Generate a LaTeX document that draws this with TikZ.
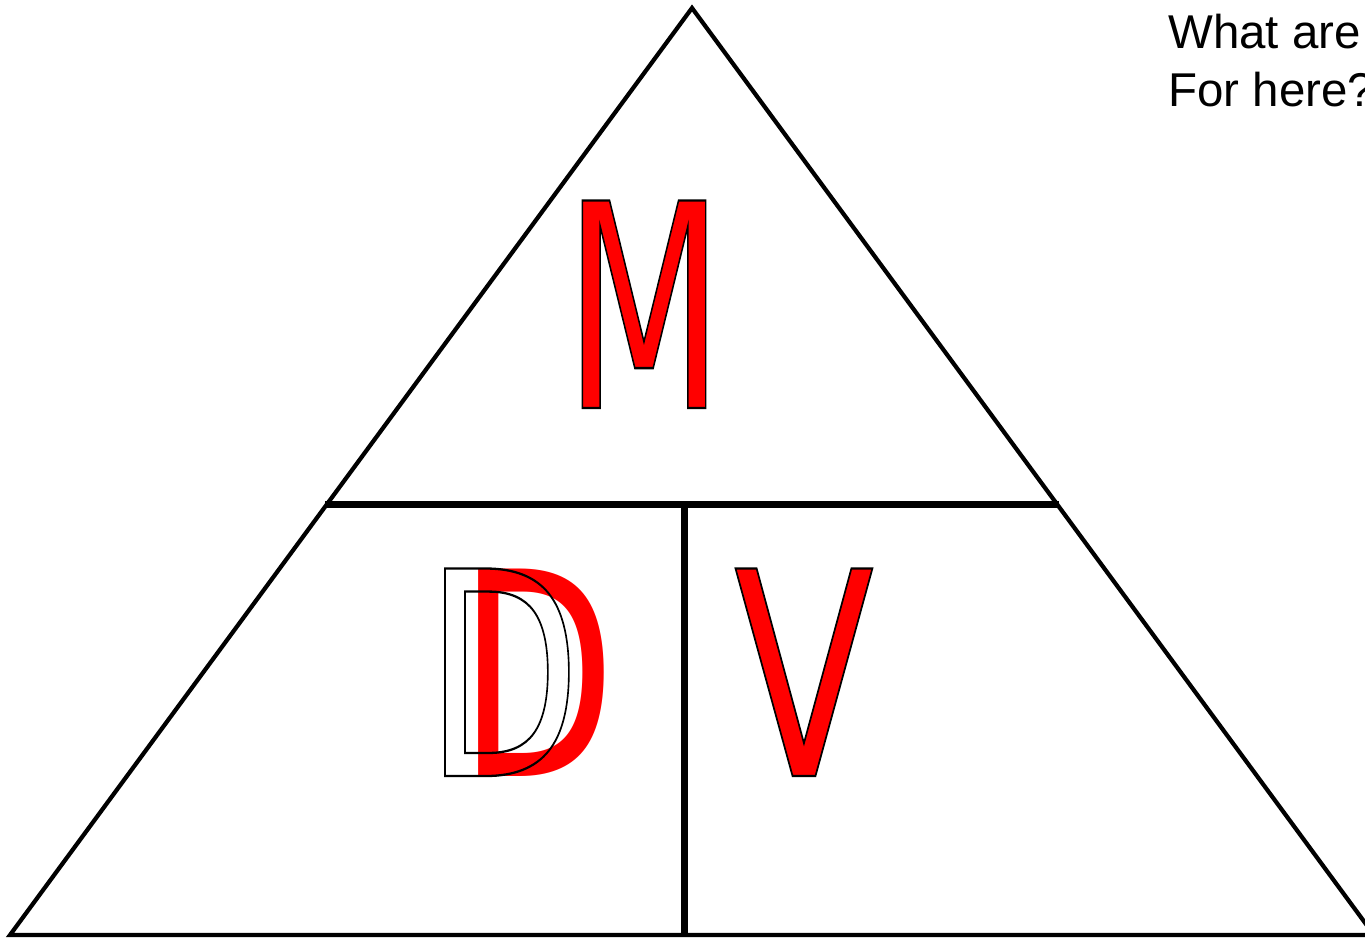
\documentclass[tikz,border=0pt]{standalone}
\usepackage{fontspec}
\usepackage{graphicx}
\usetikzlibrary{positioning}
\newfontfamily\letterfont{DejaVu Sans}
\newfontfamily\notefont{Liberation Sans}
\definecolor{letterred}{RGB}{255,0,0}
% fill + thin black stroke, and stroke only
\newcommand{\filledletter}[2]{\scalebox{#1}[1]{\special{pdf:literal direct 2 Tr 1.3 w 0 0 0 RG}#2\special{pdf:literal direct 0 Tr}}}
\newcommand{\hollowletter}[2]{\scalebox{#1}[1]{\special{pdf:literal direct 1 Tr 1.3 w 0 0 0 RG}#2\special{pdf:literal direct 0 Tr}}}
\newcommand{\plainletter}[2]{\scalebox{#1}[1]{#2}}

\begin{document}
\begin{tikzpicture}[x=0.02cm, y=-0.02cm,
    edge/.style={draw=black, line width=2.4pt},
    bar/.style={draw=black, line width=4pt},
    letter/.style={anchor=base, inner sep=0pt, text=letterred, font=\letterfont\fontsize{162}{162}\selectfont},
    note/.style={anchor=base west, inner sep=0pt, font=\notefont\fontsize{27}{33}\selectfont},
]
    \useasboundingbox (0,0) rectangle (1365,938);

    \coordinate (apex) at (692,8);
    \coordinate (bl) at (10,935);
    \coordinate (br) at (1374,935);
    \coordinate (ml) at (325,504);
    \coordinate (mr) at (1059,504);
    \coordinate (mtop) at (684.5,504);
    \coordinate (mbot) at (684.5,935);

    \draw[edge] (apex) -- (bl) -- (br) -- cycle;
    \draw[bar] (ml) -- (mr);
    \draw[bar] (mtop) -- (mbot);

    \node[letter] (mass) at (644,408) {\filledletter{0.65}{M}};
    \node[letter] (dens) at (537,776) {\plainletter{0.72}{D}};
    \node[letter, text=black] (densline) at (503,776) {\hollowletter{0.71}{D}};
    \node[letter] (vol) at (804,776) {\filledletter{0.72}{V}};

    \node[note] (q1) at (1168,48) {What are};
    \node[note] (q2) at (1168,106) {For here?};
\end{tikzpicture}
\end{document}
